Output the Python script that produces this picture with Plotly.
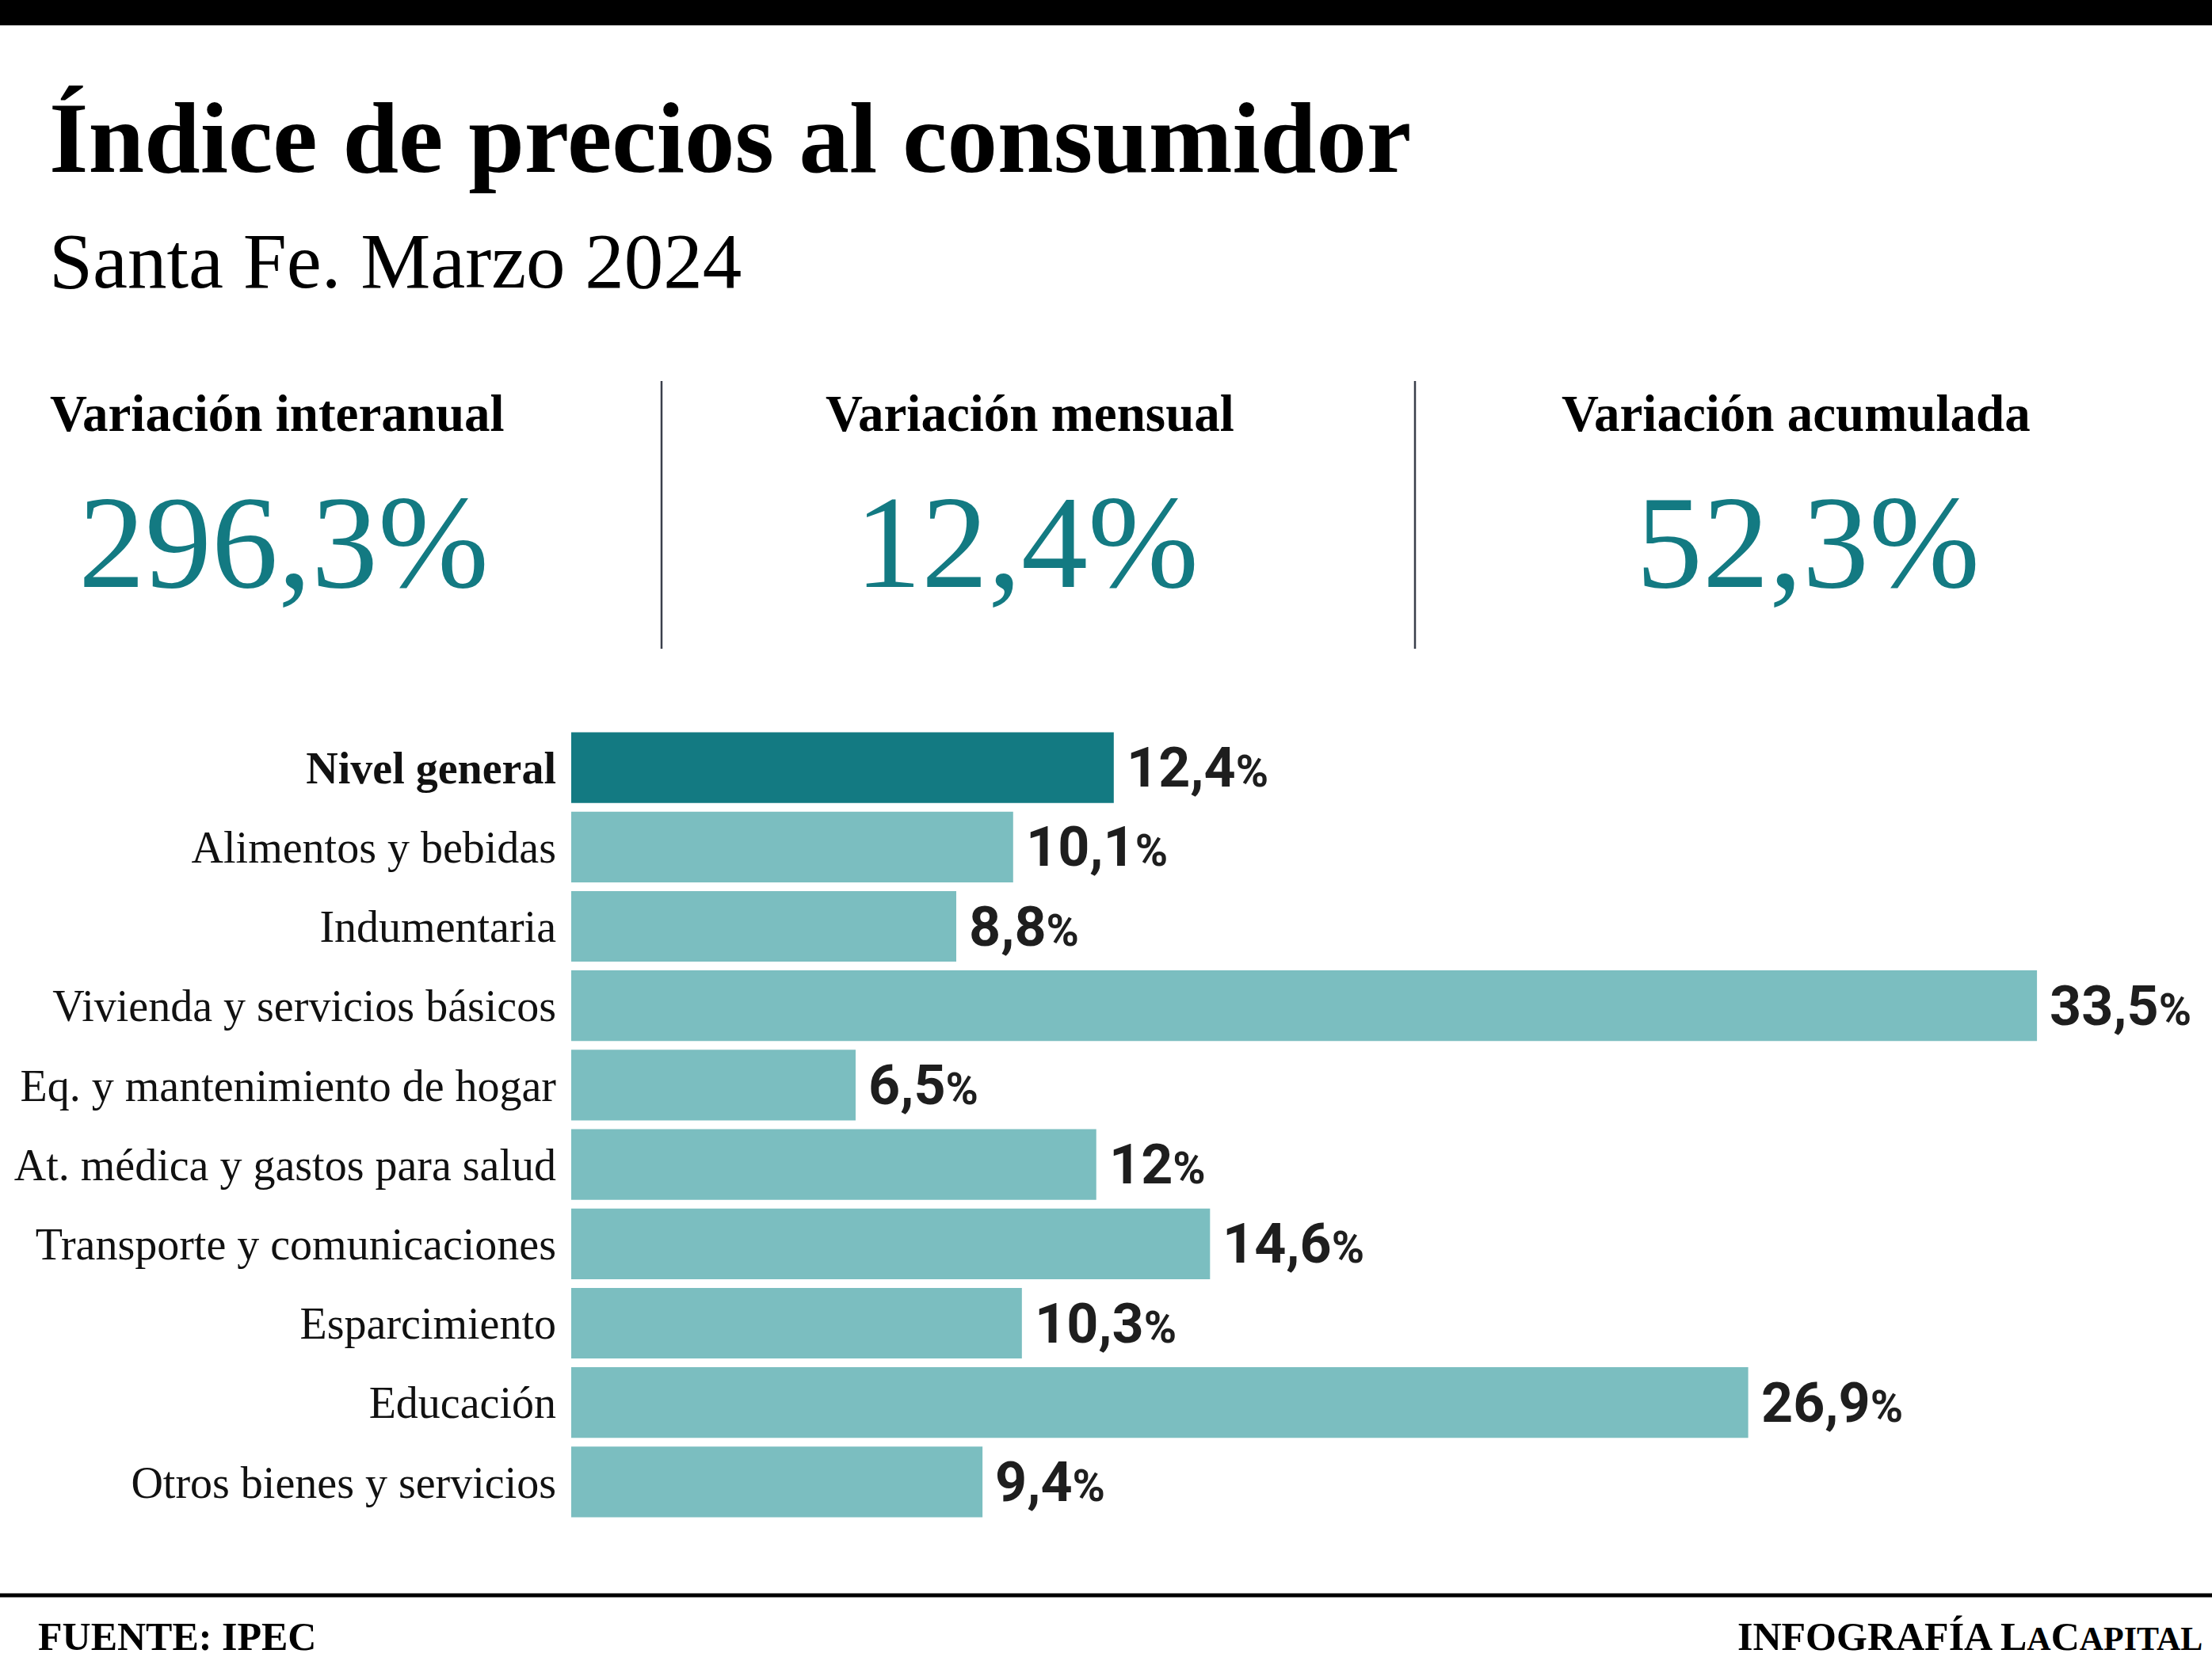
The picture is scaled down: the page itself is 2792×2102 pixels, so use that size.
import plotly.graph_objects as go

# datos (IPEC, Santa Fe, marzo 2024)
rubros = ["Nivel general", "Alimentos y bebidas", "Indumentaria",
          "Vivienda y servicios básicos", "Eq. y mantenimiento de hogar",
          "At. médica y gastos para salud", "Transporte y comunicaciones",
          "Esparcimiento", "Educación", "Otros bienes y servicios"]
variacion = [12.4, 10.1, 8.8, 33.5, 6.5, 12, 14.6, 10.3, 26.9, 9.4]

kpi_titulos = ["Variación interanual", "Variación mensual", "Variación acumulada"]
kpi_valores = ["296,3%", "12,4%", "52,3%"]

W, H = 2792, 2102
OSCURO = "#137a82"
CLARO = "#7bbec0"
SERIF = "Liberation Serif, DejaVu Serif, serif"
NARROW = "Liberation Sans Narrow, Roboto, Liberation Sans, sans-serif"


def px(x):
    return x / W


def py(y):
    return 1 - y / H


def fmt(v):
    if float(v).is_integer():
        return str(int(v))
    return str(v).replace(".", ",")


colores = [OSCURO] + [CLARO] * (len(rubros) - 1)
etiquetas = ["<b>" + rubros[0] + "</b>"] + rubros[1:]

fig = go.Figure()
fig.add_trace(go.Bar(
    x=variacion,
    y=etiquetas,
    orientation="h",
    marker=dict(color=colores, line=dict(width=0)),
    hoverinfo="skip",
))

anots = []

# titulo y subtitulo
anots.append(dict(text="<b>Índice de precios al consumidor</b>", x=px(60), y=py(174),
                  xref="paper", yref="paper", xanchor="left", yanchor="middle",
                  showarrow=False, font=dict(family=SERIF, size=127, color="#000")))
anots.append(dict(text="Santa Fe. Marzo 2024", x=px(60), y=py(329),
                  xref="paper", yref="paper", xanchor="left", yanchor="middle",
                  showarrow=False, font=dict(family=SERIF, size=99, color="#000")))

# indicadores
centros_tit = [350, 1300, 2267]
centros_val = [358, 1296, 2282]
for t, v, ct, cv in zip(kpi_titulos, kpi_valores, centros_tit, centros_val):
    anots.append(dict(text="<b>" + t + "</b>", x=px(ct), y=py(522),
                      xref="paper", yref="paper", xanchor="center", yanchor="middle",
                      showarrow=False, font=dict(family=SERIF, size=65, color="#000")))
    anots.append(dict(text=v, x=px(cv), y=py(684),
                      xref="paper", yref="paper", xanchor="center", yanchor="middle",
                      showarrow=False, font=dict(family=SERIF, size=168, color=OSCURO)))

# etiquetas de valor
for r, v in zip(etiquetas, variacion):
    anots.append(dict(text="<b>" + fmt(v) + "<span style='font-size:56px'>%</span></b>",
                      x=v, y=r, xref="x", yref="y", xanchor="left", yanchor="middle",
                      xshift=14, showarrow=False,
                      font=dict(family=NARROW, size=70, color="#1e1e1e")))

# pie
anots.append(dict(text="<b>FUENTE: IPEC</b>", x=px(46), y=py(2066),
                  xref="paper", yref="paper", xanchor="left", yanchor="middle",
                  showarrow=False, font=dict(family=SERIF, size=50, color="#000")))
anots.append(dict(text="<b>INFOGRAFÍA L<span style='font-size:42px'>A</span>"
                       "C<span style='font-size:42px'>APITAL</span></b>",
                  x=px(2782), y=py(2066),
                  xref="paper", yref="paper", xanchor="right", yanchor="middle",
                  showarrow=False, font=dict(family=SERIF, size=50, color="#000")))

shapes = [
    dict(type="rect", xref="paper", yref="paper", x0=0, x1=1, y0=py(32), y1=1,
         fillcolor="#000", line=dict(width=0)),
    dict(type="line", xref="paper", yref="paper", x0=px(835), x1=px(835),
         y0=py(481), y1=py(819), line=dict(color="#3a3f4b", width=2.5)),
    dict(type="line", xref="paper", yref="paper", x0=px(1786), x1=px(1786),
         y0=py(481), y1=py(819), line=dict(color="#3a3f4b", width=2.5)),
    dict(type="line", xref="paper", yref="paper", x0=0, x1=1,
         y0=py(2014), y1=py(2014), line=dict(color="#000", width=5)),
]

fig.update_layout(
    width=W, height=H,
    margin=dict(l=0, r=0, t=0, b=0),
    paper_bgcolor="white", plot_bgcolor="white",
    showlegend=False,
    bargap=0.11,
    annotations=anots,
    shapes=shapes,
    xaxis=dict(domain=[px(721), 1], range=[0, 37.5], visible=False, fixedrange=True),
    yaxis=dict(domain=[py(1921), py(919)], autorange="reversed",
               showgrid=False, zeroline=False, showline=False, ticks="",
               ticklabelstandoff=18,
               tickfont=dict(family=SERIF, size=56, color="#111"), fixedrange=True),
)

# sin margen del body para que la figura quede pegada a los bordes
fig.write_html("out.html", config={"displayModeBar": False},
               post_script="document.body.style.margin='0';")
